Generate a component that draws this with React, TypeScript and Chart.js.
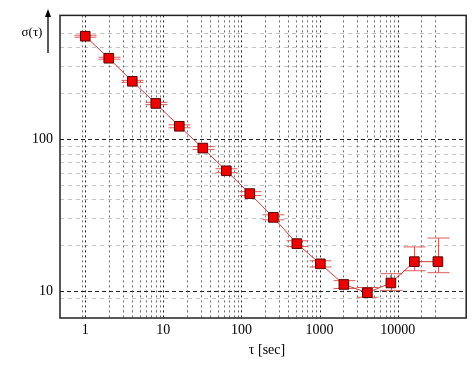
import React, { useEffect, useRef } from 'react';
import { Chart, registerables } from 'chart.js';

Chart.register(...registerables);

// ---- data ----
const tau = [1, 2, 4, 8, 16, 32, 64, 128, 256, 512, 1024, 2048, 4096, 8192, 16384, 32768];
const sigma = [473, 339, 239, 171, 121, 87, 61.7, 43.7, 30.5, 20.5, 15.1, 11.05, 9.75, 11.3, 15.6, 15.6];
const sigmaLow = [466, 334, 235.5, 168, 118.3, 85.1, 59.9, 42.4, 29.4, 19.6, 14.4, 10.4, 9.1, 10.1, 13.6, 13.2];
const sigmaHigh = [480, 344, 242.5, 174, 123.7, 89, 63.6, 45.0, 31.7, 21.4, 15.8, 11.7, 10.55, 13.0, 19.5, 22.3];

const xTickLabels = [1, 10, 100, 1000, 10000];
const yTickLabels = [10, 100];
const gridMultipliers = [1, 2, 3, 4, 5, 6, 7, 8, 9];
const xGridExtra = [0.9];
const xGridMax = 30000;
const yGridExtra = [9];
const yGridMax = 500;

const xMin = 0.475;
const xMax = 75500;
const yMin = 6.65;
const yMax = 648;

const FONT = '"Liberation Serif", "Times New Roman", serif';

export default function App() {
  const ref = useRef<HTMLCanvasElement>(null);

  useEffect(() => {
    document.body.style.margin = '0';
    const canvas = ref.current;
    if (!canvas) return;

    const xGrid: number[] = [...xGridExtra];
    xTickLabels.forEach((d) => gridMultipliers.forEach((m) => { if (d * m <= xGridMax) xGrid.push(d * m); }));
    const yGrid: number[] = [...yGridExtra];
    yTickLabels.forEach((d) => gridMultipliers.forEach((m) => { if (d * m <= yGridMax) yGrid.push(d * m); }));

    const decorPlugin = {
      id: 'decor',
      beforeDatasetsDraw(chart: any) {
        const { ctx, chartArea: a, scales } = chart;
        const xs = scales.x;
        const ys = scales.y;
        ctx.save();
        ctx.beginPath();
        ctx.rect(a.left, a.top, a.right - a.left, a.bottom - a.top);
        ctx.clip();
        ctx.lineWidth = 1;
        // horizontal minor
        yGrid.filter((v) => !yTickLabels.includes(v)).forEach((v) => {
          const y = Math.round(ys.getPixelForValue(v)) + 0.5;
          ctx.strokeStyle = '#c4c4c4';
          ctx.setLineDash([4, 4]);
          ctx.beginPath();
          ctx.moveTo(a.left, y);
          ctx.lineTo(a.right, y);
          ctx.stroke();
        });
        // vertical
        xGrid.forEach((v) => {
          const major = xTickLabels.includes(v);
          const x = Math.round(xs.getPixelForValue(v)) + 0.5;
          ctx.strokeStyle = major ? '#222' : '#6a6a6a';
          ctx.setLineDash([2, 3]);
          ctx.beginPath();
          ctx.moveTo(x, a.top);
          ctx.lineTo(x, a.bottom);
          ctx.stroke();
        });
        // horizontal major
        yTickLabels.forEach((v) => {
          const y = Math.round(ys.getPixelForValue(v)) + 0.5;
          ctx.strokeStyle = '#222';
          ctx.setLineDash([4, 3]);
          ctx.beginPath();
          ctx.moveTo(a.left, y);
          ctx.lineTo(a.right, y);
          ctx.stroke();
        });
        ctx.setLineDash([]);
        // error bars
        ctx.strokeStyle = '#e05a5a';
        ctx.lineWidth = 1;
        tau.forEach((t, i) => {
          const x = Math.round(xs.getPixelForValue(t)) + 0.5;
          const yl = ys.getPixelForValue(sigmaLow[i]);
          const yh = ys.getPixelForValue(sigmaHigh[i]);
          ctx.beginPath();
          ctx.moveTo(x, yh);
          ctx.lineTo(x, yl);
          ctx.moveTo(x - 11, yh);
          ctx.lineTo(x + 11, yh);
          ctx.moveTo(x - 11, yl);
          ctx.lineTo(x + 11, yl);
          ctx.stroke();
        });
        ctx.restore();
      },
      afterDraw(chart: any) {
        const { ctx, chartArea: a } = chart;
        ctx.save();
        // frame
        ctx.strokeStyle = '#222';
        ctx.lineWidth = 1.5;
        ctx.strokeRect(a.left, a.top, a.right - a.left, a.bottom - a.top);
        // y label
        ctx.fillStyle = '#000';
        ctx.font = `13px ${FONT}`;
        ctx.textAlign = 'center';
        ctx.textBaseline = 'middle';
        ctx.fillText('σ(τ)', 32, 33);
        // arrow
        ctx.strokeStyle = '#000';
        ctx.lineWidth = 1.3;
        ctx.beginPath();
        ctx.moveTo(48, 53);
        ctx.lineTo(48, 15);
        ctx.stroke();
        ctx.beginPath();
        ctx.moveTo(48, 9);
        ctx.lineTo(51, 17);
        ctx.lineTo(45, 17);
        ctx.closePath();
        ctx.fillStyle = '#000';
        ctx.fill();
        // x label
        ctx.font = `14px ${FONT}`;
        ctx.fillText('τ [sec]', 267, 350);
        ctx.restore();
      },
    };

    const chart = new Chart(canvas, {
      type: 'line',
      data: {
        datasets: [
          {
            data: tau.map((t, i) => ({ x: t, y: sigma[i] })),
            borderColor: '#d03a3a',
            borderWidth: 1,
            backgroundColor: '#ee0000',
            pointStyle: 'rect',
            pointRadius: 6.8,
            pointBackgroundColor: '#ee0000',
            pointBorderColor: '#5a0000',
            pointBorderWidth: 1,
            tension: 0,
            fill: false,
          },
        ],
      },
      options: {
        responsive: false,
        animation: false,
        events: [],
        layout: { padding: { left: 0, right: 6, top: 12, bottom: 0 } },
        plugins: { legend: { display: false }, tooltip: { enabled: false }, title: { display: false } },
        scales: {
          x: {
            type: 'logarithmic',
            min: xMin,
            max: xMax,
            afterBuildTicks: (s: any) => { s.ticks = xTickLabels.map((v) => ({ value: v })); },
            afterFit: (s: any) => { s.height = 51; },
            grid: { display: false, drawTicks: false },
            border: { display: false },
            ticks: {
              autoSkip: false,
              maxRotation: 0,
              padding: 4,
              color: '#000',
              font: { family: FONT, size: 14 },
              callback: (v: any) => String(v),
            },
          },
          y: {
            type: 'logarithmic',
            min: yMin,
            max: yMax,
            afterBuildTicks: (s: any) => { s.ticks = yTickLabels.map((v) => ({ value: v })); },
            afterFit: (s: any) => { s.width = 60; },
            grid: { display: false, drawTicks: false },
            border: { display: false },
            ticks: {
              autoSkip: false,
              padding: 7,
              color: '#000',
              font: { family: FONT, size: 14 },
              callback: (v: any) => String(v),
            },
          },
        },
      },
      plugins: [decorPlugin],
    } as any);

    return () => chart.destroy();
  }, []);

  return (
    <div style={{ width: 474, height: 369 }}>
      <canvas ref={ref} width={474} height={369} style={{ display: 'block' }} />
    </div>
  );
}
